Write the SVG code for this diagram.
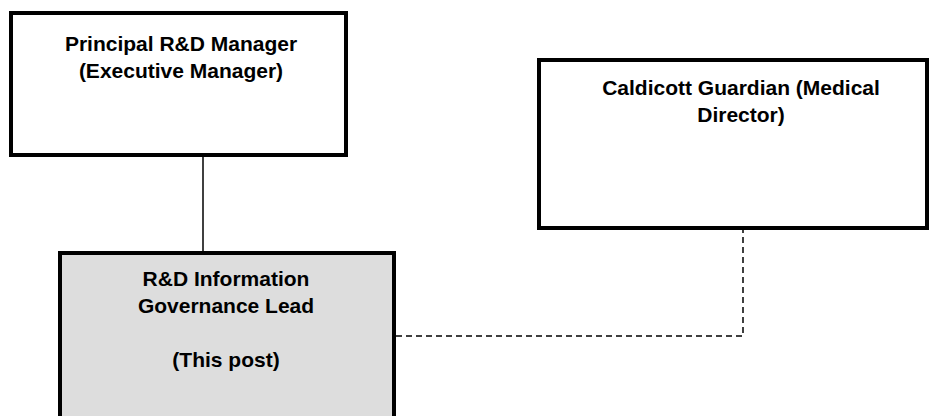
<svg xmlns="http://www.w3.org/2000/svg" width="937" height="416" viewBox="0 0 937 416">
  <style>
    .box { fill: #ffffff; stroke: #000000; stroke-width: 4; }
    .box.self { fill: #dddddd; }
    .lbl { font-family: "Liberation Sans", Arial, sans-serif; font-weight: bold; font-size: 21px; fill: #000000; text-anchor: middle; }
    .solid { stroke: #000000; stroke-width: 1.5; fill: none; }
    .dash { stroke: #000000; stroke-width: 1.5; fill: none; stroke-dasharray: 6 4; }
  </style>
  <rect width="937" height="416" fill="#ffffff"/>
  <g id="connectors">
    <line class="solid" x1="203" y1="155" x2="203" y2="253"/>
    <polyline class="dash" points="396,336 743,336 743,229"/>
  </g>
  <g id="principal-rd-manager">
    <rect class="box" x="11" y="13" width="335" height="142"/>
    <text class="lbl" x="181" y="51">Principal R&amp;D Manager</text>
    <text class="lbl" x="181" y="78">(Executive Manager)</text>
  </g>
  <g id="caldicott-guardian">
    <rect class="box" x="539" y="60" width="388" height="168"/>
    <text class="lbl" x="741" y="95">Caldicott Guardian (Medical</text>
    <text class="lbl" x="741" y="122">Director)</text>
  </g>
  <g id="rd-ig-lead">
    <rect class="box self" x="60" y="253" width="334" height="175"/>
    <text class="lbl" x="226" y="286">R&amp;D Information</text>
    <text class="lbl" x="226" y="313">Governance Lead</text>
    <text class="lbl" x="226" y="367">(This post)</text>
  </g>
</svg>
